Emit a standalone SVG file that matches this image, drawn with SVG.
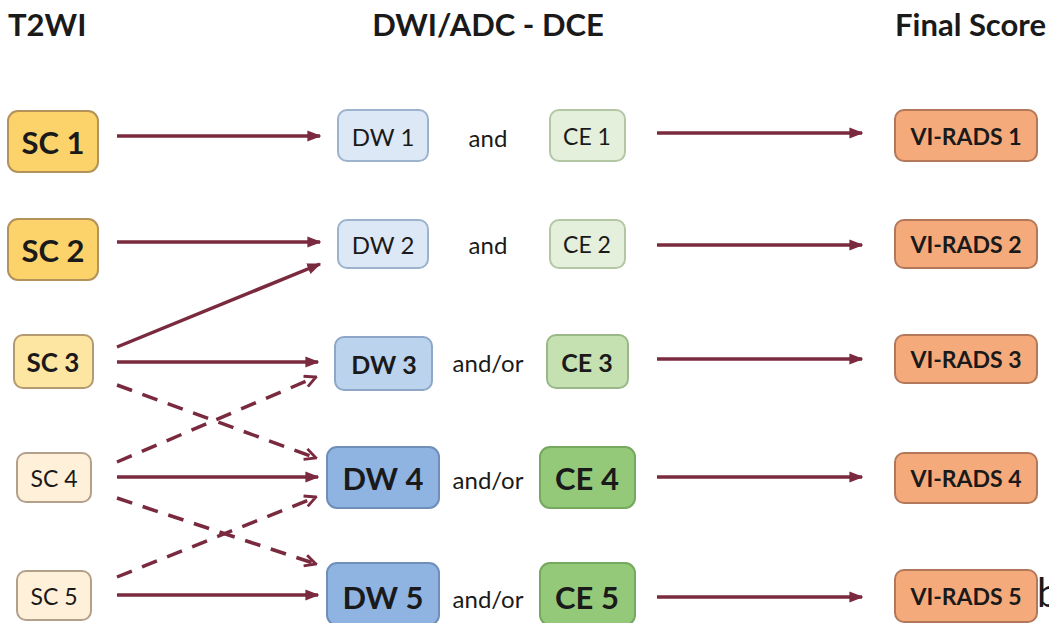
<svg xmlns="http://www.w3.org/2000/svg" width="1049" height="623" viewBox="0 0 1049 623">
<style>
text{font-family:Lato,"Open Sans","Liberation Sans",sans-serif;fill:#1a1a1a;text-anchor:middle;dominant-baseline:central}
.h{font-weight:bold;font-size:31px;dominant-baseline:auto}
.b{font-weight:bold}
.conn{stroke:#7a2a3e;stroke-width:3.5;fill:none}
.dash{stroke-dasharray:16 11}
.sc12{fill:#fcd26a;stroke:#b3935a;stroke-width:2}
.sc3{fill:#fde5a2;stroke:#b39a70;stroke-width:2}
.sc45{fill:#fff1d9;stroke:#b3a08a;stroke-width:2}
.dwl{fill:#dde8f6;stroke:#9db2cc;stroke-width:2}
.dwm{fill:#bcd3ee;stroke:#8ea7c8;stroke-width:2}
.dwd{fill:#8fb4e2;stroke:#6f8fb8;stroke-width:2}
.cel{fill:#e4f0db;stroke:#b3c7a4;stroke-width:2}
.cem{fill:#c5e1b2;stroke:#9ab887;stroke-width:2}
.ced{fill:#95c97a;stroke:#76a85e;stroke-width:2}
.vr{fill:#f5aa7b;stroke:#b3785a;stroke-width:2}
</style>
<defs>
<marker id="ah" viewBox="0 0 10 10" refX="9" refY="5" markerWidth="4" markerHeight="4" orient="auto" markerUnits="strokeWidth">
<path d="M0,1 L10,5 L0,9 z" fill="#7a2a3e"/>
</marker>
<marker id="ao" viewBox="0 0 10 10" refX="9" refY="5" markerWidth="4" markerHeight="4" orient="auto" markerUnits="strokeWidth">
<path d="M1,1 L9,5 L1,9" fill="none" stroke="#7a2a3e" stroke-width="2"/>
</marker>
</defs>
<rect width="1049" height="623" fill="#ffffff"/>
<g id="headers">
<text class="h" x="8" y="36" style="text-anchor:start">T2WI</text>
<text class="h" x="488" y="36">DWI/ADC - DCE</text>
<text class="h" x="1046" y="36" style="text-anchor:end">Final Score</text>
</g>
<g id="connectors">
<line class="conn" x1="117" y1="136" x2="320" y2="136" marker-end="url(#ah)"/>
<line class="conn" x1="117" y1="242" x2="320" y2="242" marker-end="url(#ah)"/>
<line class="conn" x1="117" y1="347" x2="320" y2="264" marker-end="url(#ah)"/>
<line class="conn" x1="117" y1="362" x2="318" y2="362" marker-end="url(#ah)"/>
<line class="conn dash" x1="117" y1="385" x2="316" y2="458" marker-end="url(#ao)"/>
<line class="conn dash" x1="117" y1="462" x2="316" y2="377" marker-end="url(#ao)"/>
<line class="conn" x1="117" y1="477" x2="318" y2="477" marker-end="url(#ah)"/>
<line class="conn dash" x1="117" y1="498" x2="316" y2="564" marker-end="url(#ao)"/>
<line class="conn dash" x1="117" y1="577" x2="316" y2="497" marker-end="url(#ao)"/>
<line class="conn" x1="117" y1="595" x2="318" y2="595" marker-end="url(#ah)"/>
<line class="conn" x1="657" y1="133" x2="862" y2="133" marker-end="url(#ah)"/>
<line class="conn" x1="657" y1="245" x2="862" y2="245" marker-end="url(#ah)"/>
<line class="conn" x1="657" y1="359" x2="862" y2="359" marker-end="url(#ah)"/>
<line class="conn" x1="657" y1="477" x2="862" y2="477" marker-end="url(#ah)"/>
<line class="conn" x1="657" y1="597" x2="862" y2="597" marker-end="url(#ah)"/>
</g>
<g id="sc1"><rect class="sc12" x="8" y="111" width="90" height="61" rx="10"/><text class="b" x="53" y="142" font-size="31">SC 1</text></g>
<g id="sc2"><rect class="sc12" x="8" y="219" width="90" height="61" rx="10"/><text class="b" x="53" y="250" font-size="31">SC 2</text></g>
<g id="sc3"><rect class="sc3" x="14" y="335" width="79" height="53" rx="9"/><text class="b" x="53" y="362" font-size="26">SC 3</text></g>
<g id="sc4"><rect class="sc45" x="17" y="453" width="74" height="49" rx="9"/><text x="54" y="478" font-size="23">SC 4</text></g>
<g id="sc5"><rect class="sc45" x="17" y="571" width="74" height="49" rx="9"/><text x="54" y="596" font-size="23">SC 5</text></g>

<g id="dw1"><rect class="dwl" x="338" y="110" width="90" height="51" rx="9"/><text x="383" y="136" font-size="24">DW 1</text></g>
<g id="dw2"><rect class="dwl" x="338" y="220" width="90" height="48" rx="9"/><text x="383" y="244" font-size="24">DW 2</text></g>
<g id="dw3"><rect class="dwm" x="335" y="337" width="97" height="53" rx="9"/><text class="b" x="384" y="364" font-size="25">DW 3</text></g>
<g id="dw4"><rect class="dwd" x="327" y="447" width="112" height="61" rx="10"/><text class="b" x="383" y="478" font-size="31">DW 4</text></g>
<g id="dw5"><rect class="dwd" x="327" y="563" width="112" height="62" rx="10"/><text class="b" x="383" y="597" font-size="31">DW 5</text></g>

<g id="op1"><text x="488" y="137" font-size="24">and</text></g>
<g id="op2"><text x="488" y="244" font-size="24">and</text></g>
<g id="op3"><text x="488" y="362" font-size="24">and/or</text></g>
<g id="op4"><text x="488" y="479" font-size="24">and/or</text></g>
<g id="op5"><text x="488" y="598" font-size="24">and/or</text></g>

<g id="ce1"><rect class="cel" x="550" y="110" width="75" height="51" rx="9"/><text x="587" y="136" font-size="23">CE 1</text></g>
<g id="ce2"><rect class="cel" x="550" y="220" width="75" height="48" rx="9"/><text x="587" y="244" font-size="23">CE 2</text></g>
<g id="ce3"><rect class="cem" x="547" y="335" width="81" height="53" rx="9"/><text class="b" x="587" y="362" font-size="25">CE 3</text></g>
<g id="ce4"><rect class="ced" x="540" y="447" width="95" height="61" rx="10"/><text class="b" x="587" y="478" font-size="31">CE 4</text></g>
<g id="ce5"><rect class="ced" x="540" y="563" width="95" height="62" rx="10"/><text class="b" x="587" y="597" font-size="31">CE 5</text></g>

<g id="vr1"><rect class="vr" x="895" y="110" width="142" height="51" rx="9"/><text class="b" x="966" y="136" font-size="23">VI-RADS 1</text></g>
<g id="vr2"><rect class="vr" x="895" y="220" width="142" height="48" rx="9"/><text class="b" x="966" y="244" font-size="23">VI-RADS 2</text></g>
<g id="vr3"><rect class="vr" x="895" y="335" width="142" height="48" rx="9"/><text class="b" x="966" y="359" font-size="23">VI-RADS 3</text></g>
<g id="vr4"><rect class="vr" x="895" y="453" width="142" height="50" rx="9"/><text class="b" x="966" y="478" font-size="23">VI-RADS 4</text></g>
<g id="vr5"><rect class="vr" x="895" y="570" width="142" height="52" rx="9"/><text class="b" x="966" y="596" font-size="23">VI-RADS 5</text></g>
<text x="1037" y="607" font-size="40" style="text-anchor:start;dominant-baseline:auto">b</text>
</svg>
